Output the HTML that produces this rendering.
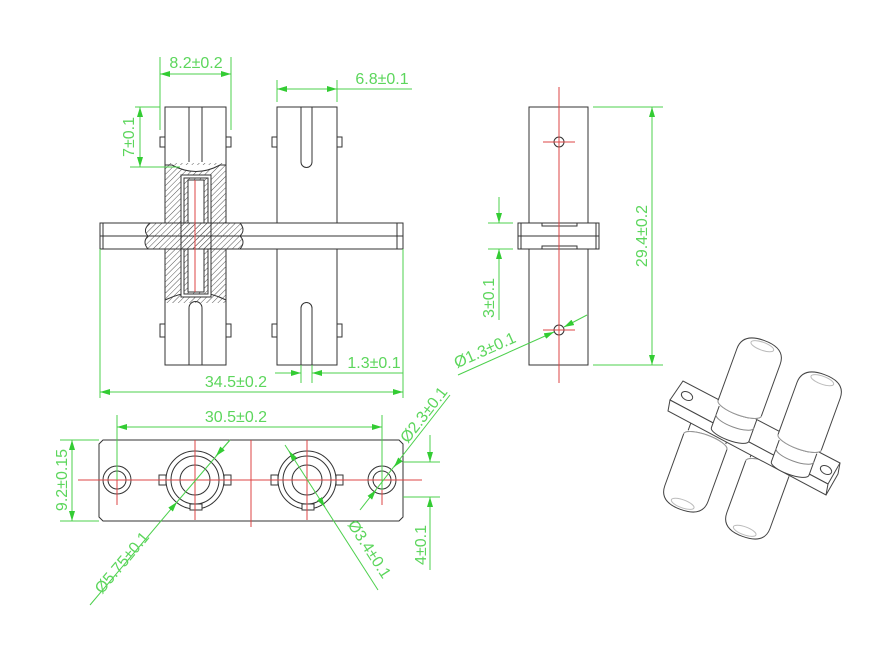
<!DOCTYPE html><html><head><style>body{margin:0;background:#fff}svg{display:block}text{font-family:"Liberation Sans",sans-serif;font-size:16px;fill:#5cd65c}</style></head><body>
<svg width="892" height="670" viewBox="0 0 892 670" xmlns="http://www.w3.org/2000/svg">
<defs>
<pattern id="h" width="4" height="4" patternUnits="userSpaceOnUse" patternTransform="rotate(45)"><line x1="0" y1="0" x2="0" y2="4" stroke="#555" stroke-width="1"/></pattern>
<marker id="a" markerWidth="10" markerHeight="6" refX="10" refY="3" orient="auto-start-reverse" markerUnits="userSpaceOnUse"><path d="M0,0L10,3L0,6z" fill="#3c3"/></marker>
<g id="cyl" fill="#fff" stroke="#444">
<path d="M-20,35 L-20,58 A20,6 0 0 0 20,58 L20,35"/>
<path d="M-23,30 L-23,-25 Q-23,-42 0,-42 Q23,-42 23,-25 L23,30 A23,7 0 0 1 -23,30 Z"/>
<path d="M-23,30 A23,7 0 0 0 23,30" stroke="#999"/>
<ellipse cx="0" cy="-36" rx="12" ry="4" stroke="#bbb"/>
<path d="M-20,44 A20,6 0 0 0 20,44" stroke="#888"/>
</g>
</defs>
<g fill="none" stroke="#333" stroke-width="1">
<rect x="165" y="107" width="61" height="258" fill="#fff"/>
<rect x="165" y="163" width="61" height="140" fill="url(#h)" stroke="none"/>
<path d="M165,165 L172,165 Q196,178 220,165 L226,165" fill="#fff"/>
<path d="M165,300 Q196,285 226,300"/>
<rect x="181" y="175" width="30" height="122" fill="#fff"/>
<rect x="184" y="178" width="24" height="116" fill="url(#h)"/>
<rect x="188" y="180" width="16" height="112" fill="#fff"/>
<line x1="189" y1="107" x2="189" y2="162"/><line x1="202" y1="107" x2="202" y2="162"/>
<line x1="189" y1="308" x2="189" y2="365"/><line x1="202" y1="308" x2="202" y2="365"/>
<path d="M189,308 A6.5,6.5 0 0 1 202,308"/>
<rect x="160" y="137" width="5" height="10"/><rect x="226" y="137" width="5" height="10"/>
<rect x="160" y="324" width="5" height="13"/><rect x="226" y="324" width="5" height="13"/>
<rect x="100" y="223" width="303" height="26" fill="#fff"/>
<path d="M150,223 Q142,230 148,236 Q142,242 148,249 L240,249 Q246,242 240,236 Q246,230 240,223 Z" fill="url(#h)" stroke="#333"/>
<line x1="100" y1="236" x2="403" y2="236"/><line x1="103" y1="223" x2="103" y2="249"/><line x1="397" y1="223" x2="397" y2="249"/>
<rect x="181" y="223" width="30" height="26" fill="url(#h)"/>
<line x1="195" y1="180" x2="195" y2="292" stroke="#d44"/>
<rect x="277" y="107" width="60" height="116"/><rect x="277" y="249" width="60" height="116"/>
<path d="M301,107 L301,162 A5.5,5.5 0 0 0 312,162 L312,107"/>
<path d="M301,365 L301,308 A5.5,5.5 0 0 1 312,308 L312,365"/>
<rect x="272" y="137" width="5" height="10"/><rect x="337" y="137" width="5" height="10"/>
<rect x="272" y="324" width="5" height="13"/><rect x="337" y="324" width="5" height="13"/>
<rect x="529" y="107" width="59" height="258"/>
<rect x="518" y="223" width="81" height="26" fill="#fff"/>
<line x1="518" y1="236" x2="599" y2="236"/><line x1="521" y1="223" x2="521" y2="249"/><line x1="596" y1="223" x2="596" y2="249"/>
<rect x="542" y="223" width="35" height="3"/><rect x="542" y="246" width="35" height="3"/>
<circle cx="559" cy="142" r="5"/><circle cx="559" cy="330" r="5"/>
<path d="M103,440 L399,440 L403,444 L403,517 L399,521 L103,521 L99,517 L99,444 Z"/>
<circle cx="117" cy="480" r="14"/><circle cx="117" cy="480" r="9"/>
<circle cx="382" cy="480" r="14"/><circle cx="382" cy="480" r="9"/>
<circle cx="195" cy="480" r="29"/><circle cx="195" cy="480" r="24"/><circle cx="195" cy="480" r="15"/>
<circle cx="307" cy="480" r="29"/><circle cx="307" cy="480" r="24"/><circle cx="307" cy="480" r="15"/>
<rect x="159" y="475" width="7" height="10" fill="#fff"/><rect x="224" y="475" width="7" height="10" fill="#fff"/>
<rect x="271" y="475" width="7" height="10" fill="#fff"/><rect x="336" y="475" width="7" height="10" fill="#fff"/>
<rect x="190" y="504" width="12" height="6" fill="#fff"/><rect x="302" y="504" width="12" height="6" fill="#fff"/>
</g>
<!-- 3D -->
<use href="#cyl" transform="translate(695,470) rotate(20) scale(1,-1)"/>
<use href="#cyl" transform="translate(757,497) rotate(20) scale(1,-1)"/>
<g fill="#fff" stroke="#444">
<path d="M670,400 L683,381 L840,463 L828,484 Z"/>
<path d="M670,400 L668,411 L826,495 L828,484 Z"/>
<path d="M840,463 L838,474 L826,495"/>
<ellipse cx="687" cy="396" rx="6" ry="4" transform="rotate(28 687 396)"/>
<ellipse cx="826" cy="470" rx="6" ry="4" transform="rotate(28 826 470)"/>
</g>
<use href="#cyl" transform="translate(750,380) rotate(20)"/>
<use href="#cyl" transform="translate(810,414) rotate(20)"/>
<g stroke="#d44" stroke-width="1">
<line x1="559" y1="87" x2="559" y2="383"/>
<line x1="543" y1="142" x2="575" y2="142"/><line x1="543" y1="330" x2="575" y2="330"/>
<line x1="78" y1="480" x2="422" y2="480"/>
<line x1="117" y1="462" x2="117" y2="505"/><line x1="382" y1="462" x2="382" y2="505"/>
<line x1="195" y1="440" x2="195" y2="520"/><line x1="307" y1="440" x2="307" y2="520"/>
<line x1="251" y1="440" x2="251" y2="527"/>
</g>
<g stroke="#4cd04c" stroke-width="1" fill="none">
<line x1="160" y1="57" x2="160" y2="130"/><line x1="231" y1="57" x2="231" y2="130"/>
<line x1="160" y1="74" x2="231" y2="74" marker-start="url(#a)" marker-end="url(#a)"/>
<line x1="277" y1="80" x2="277" y2="102"/><line x1="337" y1="80" x2="337" y2="102"/>
<line x1="277" y1="89" x2="337" y2="89" marker-start="url(#a)" marker-end="url(#a)"/><line x1="337" y1="89" x2="412" y2="89"/>
<line x1="135" y1="107" x2="160" y2="107"/><line x1="130" y1="167" x2="180" y2="167"/>
<line x1="140" y1="107" x2="140" y2="167" marker-start="url(#a)" marker-end="url(#a)"/>
<line x1="100" y1="249" x2="100" y2="398"/><line x1="403" y1="249" x2="403" y2="398"/>
<line x1="100" y1="392" x2="403" y2="392" marker-start="url(#a)" marker-end="url(#a)"/>
<line x1="301" y1="365" x2="301" y2="383"/><line x1="312" y1="365" x2="312" y2="383"/>
<line x1="275" y1="373" x2="301" y2="373" marker-end="url(#a)"/><line x1="338" y1="373" x2="312" y2="373" marker-end="url(#a)"/><line x1="338" y1="373" x2="403" y2="373"/>
<line x1="593" y1="107" x2="663" y2="107"/><line x1="593" y1="365" x2="663" y2="365"/>
<line x1="652" y1="107" x2="652" y2="365" marker-start="url(#a)" marker-end="url(#a)"/>
<line x1="488" y1="223" x2="513" y2="223"/><line x1="488" y1="249" x2="513" y2="249"/>
<line x1="499" y1="197" x2="499" y2="223" marker-end="url(#a)"/><line x1="499" y1="320" x2="499" y2="249" marker-end="url(#a)"/>
<line x1="458" y1="375" x2="554" y2="332" marker-end="url(#a)"/><line x1="587" y1="315" x2="564" y2="327" marker-end="url(#a)"/>
<line x1="117" y1="415" x2="117" y2="480"/><line x1="382" y1="415" x2="382" y2="490"/>
<line x1="117" y1="427" x2="382" y2="427" marker-start="url(#a)" marker-end="url(#a)"/>
<line x1="60" y1="440" x2="99" y2="440"/><line x1="60" y1="521" x2="99" y2="521"/>
<line x1="72" y1="440" x2="72" y2="521" marker-start="url(#a)" marker-end="url(#a)"/>
<line x1="403" y1="462" x2="440" y2="462"/><line x1="403" y1="497" x2="440" y2="497"/>
<line x1="430" y1="435" x2="430" y2="462" marker-end="url(#a)"/><line x1="430" y1="570" x2="430" y2="497" marker-end="url(#a)"/>
<line x1="90" y1="605" x2="177" y2="502" marker-end="url(#a)"/><line x1="177" y1="502" x2="230" y2="440"/><line x1="230" y1="440" x2="216" y2="456" marker-end="url(#a)"/>
<line x1="285" y1="445" x2="378" y2="590"/><line x1="295" y1="460" x2="289" y2="451" marker-end="url(#a)"/><line x1="319" y1="498" x2="325" y2="507" marker-end="url(#a)"/>
<line x1="360" y1="510" x2="450" y2="395"/><line x1="372" y1="495" x2="376" y2="490" marker-end="url(#a)"/><line x1="400" y1="460" x2="394" y2="467" marker-end="url(#a)"/>
</g>
<text x="196" y="68" text-anchor="middle">8.2±0.2</text>
<text x="382" y="84" text-anchor="middle">6.8±0.1</text>
<text x="236" y="387" text-anchor="middle">34.5±0.2</text>
<text x="374" y="368" text-anchor="middle">1.3±0.1</text>
<text x="236" y="422" text-anchor="middle">30.5±0.2</text>
<text transform="translate(134,137) rotate(-90)" text-anchor="middle">7±0.1</text>
<text transform="translate(647,236) rotate(-90)" text-anchor="middle">29.4±0.2</text>
<text transform="translate(494,298) rotate(-90)" text-anchor="middle">3±0.1</text>
<text transform="translate(67,480) rotate(-90)" text-anchor="middle">9.2±0.15</text>
<text transform="translate(426,545) rotate(-90)" text-anchor="middle">4±0.1</text>
<text transform="translate(487,355) rotate(-24)" text-anchor="middle">Ø1.3±0.1</text>
<text transform="translate(126,566) rotate(-50)" text-anchor="middle">Ø5.75±0.1</text>
<text transform="translate(365,552) rotate(57)" text-anchor="middle">Ø3.4±0.1</text>
<text transform="translate(428,418) rotate(-52)" text-anchor="middle">Ø2.3±0.1</text>
</svg></body></html>
